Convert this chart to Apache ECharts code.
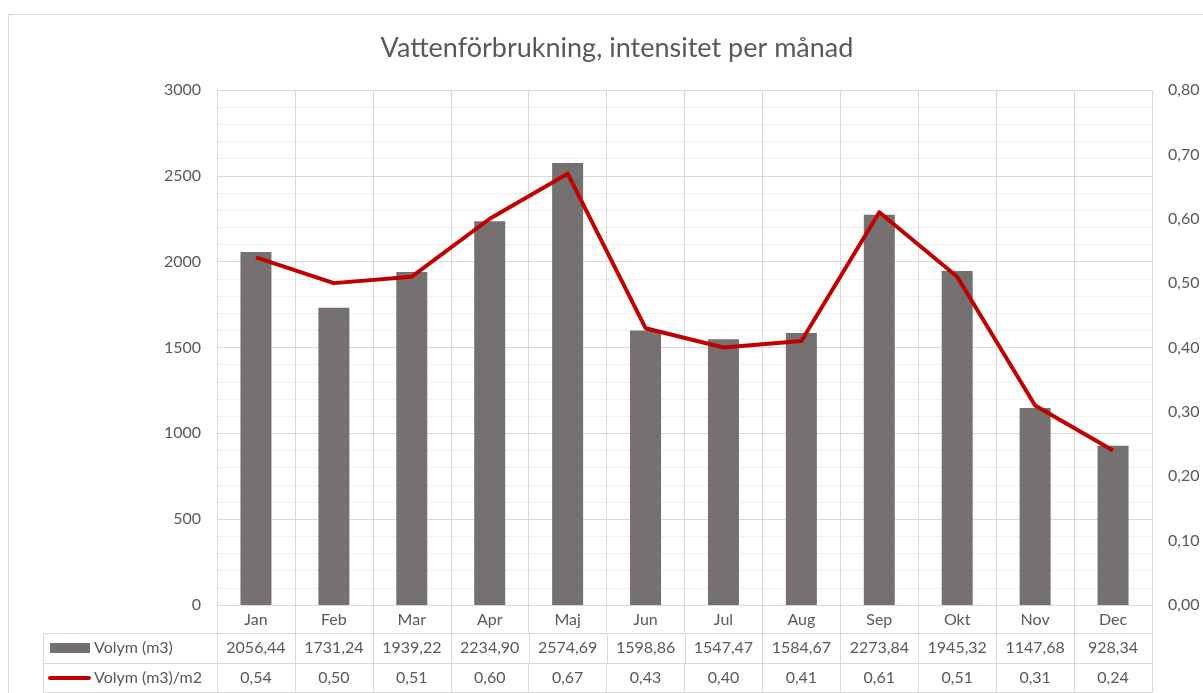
<!DOCTYPE html>
<html>
<head>
<meta charset="utf-8">
<script src="https://cdn.jsdelivr.net/npm/echarts@6/dist/echarts.min.js"></script>
<style>
  html, body { margin: 0; padding: 0; background: #fff; }
  #main { width: 1203px; height: 693px; }
</style>
</head>
<body>
<div id="main"></div>
<script>
var months = ['Jan', 'Feb', 'Mar', 'Apr', 'Maj', 'Jun', 'Jul', 'Aug', 'Sep', 'Okt', 'Nov', 'Dec'];
var volym = [2056.44, 1731.24, 1939.22, 2234.90, 2574.69, 1598.86, 1547.47, 1584.67, 2273.84, 1945.32, 1147.68, 928.34];
var volymPerM2 = [0.54, 0.50, 0.51, 0.60, 0.67, 0.43, 0.40, 0.41, 0.61, 0.51, 0.31, 0.24];

var barName = 'Volym (m3)';
var lineName = 'Volym (m3)/m2';

// svenska decimaler
function sv(v) { return v.toFixed(2).replace('.', ','); }

var FONT = 'Lato';
var FS = 16;
var GRAY = '#595959';
var GRID = '#d9d9d9';
var BAR = '#767171';
var RED = '#C00000';

var GL = 217, GR = 51, W = 1203;

var myChart = echarts.init(document.getElementById('main'));

// en tabellrad under diagrammet = en extra kategoriaxel
function tableAxis(data, offset, tickLen) {
    return {
        type: 'category',
        position: 'bottom',
        offset: offset,
        data: data,
        axisLine: { show: true, onZero: false, lineStyle: { color: GRID } },
        axisTick: { show: tickLen > 0, length: tickLen, interval: 0, lineStyle: { color: GRID } },
        axisLabel: { show: true, interval: 0, margin: 7, color: GRAY, fontSize: FS, fontFamily: FONT },
        splitLine: { show: false }
    };
}

var graphics = [
    { type: 'rect', shape: { x: 8.5, y: 14.5, width: 1400, height: 900 }, style: { fill: 'none', stroke: GRID, lineWidth: 1 }, silent: true, z: -10 },
    // förklaringskolumnen till vänster om tabellen
    { type: 'line', shape: { x1: 43.5, y1: 633.5, x2: GL, y2: 633.5 }, style: { stroke: GRID, lineWidth: 1 } },
    { type: 'line', shape: { x1: 43.5, y1: 663.5, x2: GL, y2: 663.5 }, style: { stroke: GRID, lineWidth: 1 } },
    { type: 'line', shape: { x1: 43.5, y1: 692.5, x2: GL, y2: 692.5 }, style: { stroke: GRID, lineWidth: 1 } },
    { type: 'line', shape: { x1: 43.5, y1: 633.5, x2: 43.5, y2: 693 }, style: { stroke: GRID, lineWidth: 1 } },
    { type: 'rect', shape: { x: 50, y: 643, width: 40, height: 10 }, style: { fill: BAR } },
    { type: 'text', x: 94, y: 648, style: { text: barName, fill: GRAY, font: FS + 'px ' + FONT, verticalAlign: 'middle' } },
    { type: 'line', shape: { x1: 50, y1: 678, x2: 89, y2: 678 }, style: { stroke: RED, lineWidth: 4, lineCap: 'round' } },
    { type: 'text', x: 94, y: 678, style: { text: lineName, fill: GRAY, font: FS + 'px ' + FONT, verticalAlign: 'middle' } }
];

// cellgränser i volymraden
var cell = (W - GL - GR) / months.length;
for (var k = 0; k <= months.length; k++) {
    var x = Math.round(GL + k * cell) + 0.5;
    graphics.push({
        type: 'rect', z: 100,
        shape: { x: x - 0.5, y: 633, width: 1, height: 30 },
        style: { fill: GRID }
    });
}

var option = {
    animation: false,
    textStyle: { fontFamily: FONT },
    title: {
        text: 'Vattenförbrukning, intensitet per månad',
        left: 612,
        top: 30,
        textAlign: 'center',
        textStyle: { color: GRAY, fontSize: 27, fontWeight: 'normal', fontFamily: FONT }
    },
    grid: { left: GL, right: GR, top: 90, bottom: 88, outerBoundsMode: 'none' },
    xAxis: [
        {
            type: 'category',
            data: months,
            axisLine: { show: true, onZero: false, lineStyle: { color: GRID } },
            axisTick: { show: true, length: 28, interval: 0, lineStyle: { color: GRID } },
            axisLabel: { interval: 0, margin: 7, color: GRAY, fontSize: FS, fontFamily: FONT },
            splitLine: { show: true, interval: 0, lineStyle: { color: GRID } }
        },
        tableAxis(volym.map(sv), 28, 0),
        tableAxis(volymPerM2.map(sv), 58, 29),
        tableAxis(months.map(function () { return ''; }), 87, 0)
    ],
    yAxis: [
        {
            type: 'value',
            min: 0, max: 3000, interval: 500,
            axisLine: { show: false },
            axisTick: { show: false },
            axisLabel: { margin: 16, color: GRAY, fontSize: FS, fontFamily: FONT, formatter: function (v) { return String(v); } },
            splitLine: { show: true, lineStyle: { color: GRID } },
            minorSplitLine: { show: true, lineStyle: { color: '#f0f0f0' } }
        },
        {
            type: 'value',
            min: 0, max: 0.8, interval: 0.1,
            position: 'right',
            axisLine: { show: false },
            axisTick: { show: false },
            axisLabel: { margin: 16, color: GRAY, fontSize: FS, fontFamily: FONT, formatter: sv },
            splitLine: { show: false }
        }
    ],
    graphic: graphics,
    series: [
        {
            name: barName,
            type: 'bar',
            data: volym,
            barWidth: 31,
            itemStyle: { color: BAR }
        },
        {
            name: lineName,
            type: 'line',
            data: volymPerM2,
            yAxisIndex: 1,
            symbol: 'none',
            lineStyle: { color: RED, width: 4, join: 'round' },
            itemStyle: { color: RED },
            z: 5
        }
    ]
};

myChart.setOption(option);
</script>
</body>
</html>
